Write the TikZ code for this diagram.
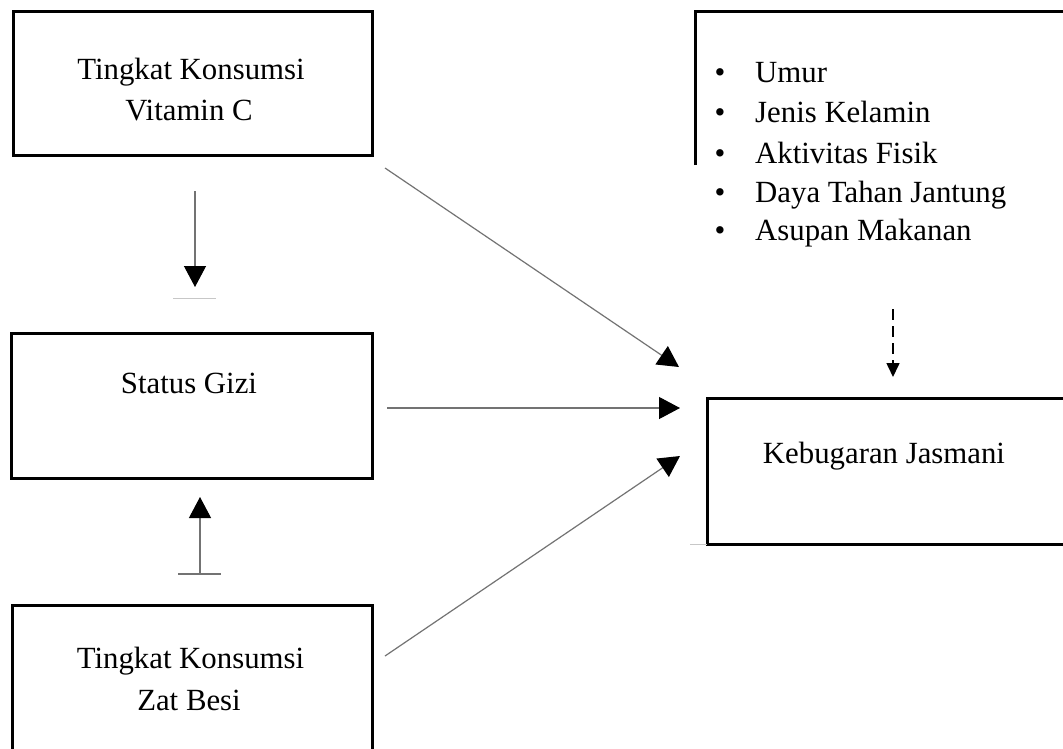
\documentclass[tikz,border=0pt]{standalone}
\usepackage{fontspec}
\setmainfont{Liberation Serif}
\usetikzlibrary{arrows.meta}
\begin{document}
\begin{tikzpicture}[x=1pt,y=-1pt,
  box/.style={draw=black, line width=3pt, inner sep=0pt},
  lbl/.style={font=\fontsize{30.8}{36}\selectfont, inner sep=0pt, anchor=base},
  item/.style={font=\fontsize{30.8}{36}\selectfont, inner sep=0pt, anchor=base west},
  conn/.style={draw=black!55, line width=1.2pt},
  tip/.style={-{Triangle[length=21pt,width=22pt,color=black]}},
  dashconn/.style={draw=black, line width=1.6pt, dash pattern=on 11pt off 6pt},
  ghost/.style={draw=black!22, line width=0.8pt}]
\fill[white] (0,0) rectangle (1063,748);
\clip (0,0) rectangle (1063,748);

% boxes
\node[box, minimum width=359pt, minimum height=144pt] (vitc) at (192.5,83) {};
\node[box, minimum width=361pt, minimum height=145pt] (gizi) at (191.5,405.5) {};
\node[box, minimum width=360pt, minimum height=160pt] (besi) at (192,685) {};
\node[box, minimum width=373pt, minimum height=146pt] (bugar) at (893.5,471) {};
\coordinate (facBL) at (695,165);
\coordinate (facTL) at (695,11);
\coordinate (facTR) at (1070,11);
\draw[black, line width=3pt] (facBL) -- (facTL) -- (facTR);

% texts
\node[lbl] (vitcA) at (191,79) {Tingkat Konsumsi};
\node[lbl] (vitcB) at (189,120) {Vitamin C};
\node[lbl] (giziT) at (189,393) {Status Gizi};
\node[lbl] (besiA) at (190.5,668) {Tingkat Konsumsi};
\node[lbl] (besiB) at (189,710) {Zat Besi};
\node[lbl] (bugarT) at (884,463) {Kebugaran Jasmani};

\foreach \t/\y/\n in {Umur/82/f1, Jenis Kelamin/122/f2, Aktivitas Fisik/163/f3, Daya Tahan Jantung/202/f4, Asupan Makanan/240/f5}{
  \node[lbl] (\n b) at (720,\y) {\textbullet};
  \node[item] (\n) at (755,\y) {\t};
}

% connectors
\coordinate (dS) at (195,191);
\coordinate (dE) at (195,287);
\draw[conn, tip] (dS) -- (dE);
\coordinate (g1a) at (173,298);
\coordinate (g1b) at (216,298);
\draw[ghost] (g1a) -- (g1b);

\coordinate (uS) at (200,574);
\coordinate (uE) at (200,497);
\coordinate (uL) at (178,574);
\coordinate (uR) at (221,574);
\draw[conn, tip] (uS) -- (uE);
\draw[conn] (uL) -- (uR);

\coordinate (a1S) at (385,168);
\coordinate (a1E) at (679,367);
\draw[conn, tip] (a1S) -- (a1E);
\coordinate (a2S) at (387,408);
\coordinate (a2E) at (680,408);
\draw[conn, tip] (a2S) -- (a2E);
\coordinate (a3S) at (385,656);
\coordinate (a3E) at (680,456);
\draw[conn, tip] (a3S) -- (a3E);

\coordinate (dashS) at (893,309);
\coordinate (dashE) at (893,377);
\draw[dashconn, -{Triangle[length=14pt,width=13pt]}] (dashS) -- (dashE);

\coordinate (g2a) at (690,544);
\coordinate (g2b) at (707,544);
\draw[ghost] (g2a) -- (g2b);
\end{tikzpicture}
\end{document}
